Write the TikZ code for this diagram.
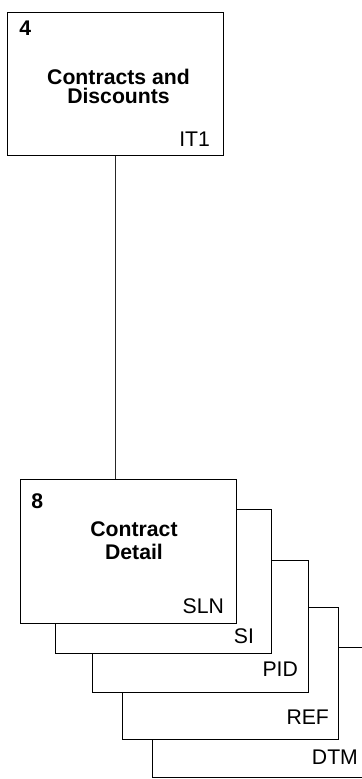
\documentclass[tikz,border=0pt]{standalone}
\usepackage{fontspec}
\setmainfont{Liberation Sans}
\newcommand\diafont{\fontsize{10.6}{9}\selectfont}
\tikzset{
  entbox/.style={draw, line width=0.65pt, fill=white, anchor=north west, inner sep=0pt, minimum width=108pt, minimum height=#1},
  entbox/.default=66pt,
  boxnum/.style={font=\diafont\bfseries, anchor=base west, inner sep=0pt},
  boxtag/.style={font=\diafont, anchor=base east, inner sep=0pt},
  boxtitle/.style={font=\diafont\bfseries, align=center, inner sep=0pt}
}
\begin{document}
\begin{tikzpicture}[x=0.5pt, y=-0.5pt]
\useasboundingbox (0,0) rectangle (362,779);
\node[entbox=71.5pt] (cad) at (7,12) {};
\node[boxnum] (cadnum) at ([shift={(12,24)}]cad.north west) {4};
\node[boxtitle] (cadtitle) at (118.5,86.5) {Contracts and\\[0.8pt]Discounts};
\node[boxtag] (cadtag) at ([shift={(-14,-10)}]cad.south east) {IT1};
\node[entbox=65pt] (dtm) at (152,647) {};
\node[entbox] (ref) at (122,607) {};
\node[entbox] (pid) at (92,560) {};
\node[entbox=72pt] (si) at (55,509) {};
\node[entbox=72pt] (sln) at (20,479) {};
\node[boxnum] (slnnum) at ([shift={(11,29)}]sln.north west) {8};
\node[boxtitle] (slntitle) at (134,540.5) {Contract\\[2.3pt]Detail};
\node[boxtag] (slntag) at ([shift={(-13,-11)}]sln.south east) {SLN};
\node[boxtag] (sitag) at ([shift={(-18,-11)}]si.south east) {SI};
\node[boxtag] (pidtag) at ([shift={(-11,-17)}]pid.south east) {PID};
\node[boxtag] (reftag) at ([shift={(-10,-16)}]ref.south east) {REF};
\node[boxtag] (dtmtag) at ([shift={(-11,-14)}]dtm.south east) {DTM};
\draw[line width=0.45pt, black!85] (cad.south) -- (cad.south |- sln.north);
\end{tikzpicture}
\end{document}
